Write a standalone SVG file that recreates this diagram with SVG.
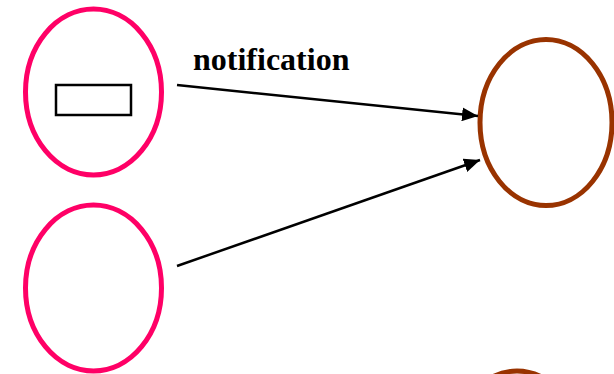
<svg xmlns="http://www.w3.org/2000/svg" width="614" height="374" viewBox="0 0 614 374">
  <style>
    .pink { fill: none; stroke: #ff0066; stroke-width: 5; }
    .brown { fill: none; stroke: #993300; stroke-width: 5; }
    .edge { fill: none; stroke: #000; stroke-width: 2.5; }
    .label { font-family: "Liberation Serif", "Times New Roman", serif; font-weight: bold; font-size: 32px; fill: #000; }
  </style>
  <defs>
    <marker id="arrow" viewBox="0 0 16 14" refX="16" refY="7" markerWidth="16" markerHeight="14" markerUnits="userSpaceOnUse" orient="auto">
      <path d="M0,0 L16,7 L0,14 z" fill="#000"/>
    </marker>
  </defs>
  <rect width="614" height="374" fill="#fff"/>
  <g id="producer-a">
    <ellipse class="pink" cx="93.5" cy="92" rx="68" ry="83"/>
    <rect x="56" y="85" width="75" height="30" fill="none" stroke="#000" stroke-width="2.5"/>
  </g>
  <g id="producer-b">
    <ellipse class="pink" cx="93.5" cy="288" rx="68" ry="83"/>
  </g>
  <g id="consumer">
    <ellipse class="brown" cx="546" cy="122.5" rx="66" ry="83"/>
  </g>
  <g id="consumer-lower">
    <ellipse class="brown" cx="517" cy="454" rx="66" ry="83"/>
  </g>
  <g id="connectors">
    <line class="edge" x1="177" y1="85" x2="478" y2="116" marker-end="url(#arrow)"/>
    <line class="edge" x1="177" y1="266" x2="480" y2="160" marker-end="url(#arrow)"/>
    <text class="label" x="193" y="70">notification</text>
  </g>
</svg>
